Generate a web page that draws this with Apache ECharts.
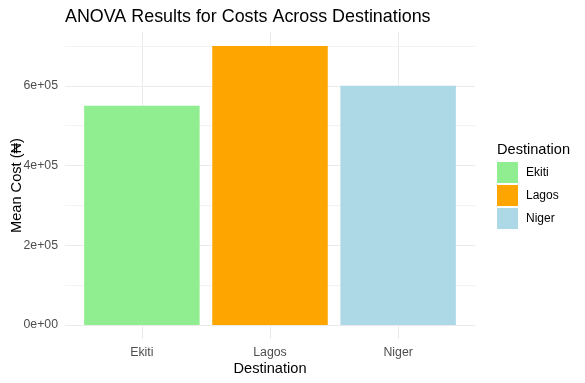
<!DOCTYPE html>
<html>
<head>
<meta charset="utf-8">
<script src="https://cdn.jsdelivr.net/npm/echarts@6/dist/echarts.min.js"></script>
<style>html,body{margin:0;padding:0;background:#fff;}#c{width:585px;height:383px;}</style>
</head>
<body>
<div id="c"></div>
<script>
const categories = ['Ekiti', 'Lagos', 'Niger'];
const meanCost = [550000, 700000, 600000];
const colors = ['#90EE90', '#FFA500', '#ADD8E6'];
const yTicks = [0, 200000, 400000, 600000];
const yMinor = [100000, 300000, 500000, 700000];
const yRange = [-35000, 735000];
const xRange = [0.4, 3.6];

function sci(v) {
  if (v === 0) return '0e+00';
  const e = Math.floor(Math.log10(Math.abs(v)));
  const m = Math.round(v / Math.pow(10, e));
  return m + 'e' + (e >= 0 ? '+' : '-') + String(Math.abs(e)).padStart(2, '0');
}

const font = 'Liberation Sans, Arial, sans-serif';
const gridLines = [];
yTicks.forEach(v => gridLines.push({ yAxis: v, lineStyle: { color: '#EBEBEB', width: 1, type: 'solid' } }));
yMinor.forEach(v => gridLines.push({ yAxis: v, lineStyle: { color: '#F3F3F3', width: 1, type: 'solid' } }));
categories.forEach((c, i) => gridLines.push({ xAxis: i + 1, lineStyle: { color: '#EBEBEB', width: 1, type: 'solid' } }));

const series = categories.map((c, i) => {
  const s = {
    name: c,
    type: 'bar',
    data: [[i + 1, meanCost[i]]],
    barWidth: 115.5,
    barGap: '-100%',
    itemStyle: { color: colors[i] },
    z: 2,
    silent: true
  };
  if (i === 0) {
    s.markLine = {
      silent: true,
      symbol: 'none',
      z: 0,
      label: { show: false },
      lineStyle: { type: 'solid' },
      animation: false,
      data: gridLines
    };
  }
  return s;
});

const chart = echarts.init(document.getElementById('c'), null, { renderer: 'canvas' });
chart.setOption({
  animation: false,
  backgroundColor: '#ffffff',
  title: [
    { text: 'ANOVA Results for Costs Across Destinations', left: 65, top: 8, padding: 0,
      textStyle: { fontFamily: font, fontSize: 17.9, fontWeight: 'normal', color: '#000' } },
    { text: 'Destination', left: 497, top: 142, padding: 0,
      textStyle: { fontFamily: font, fontSize: 14.6, fontWeight: 'normal', color: '#000' } }
  ],
  legend: {
    orient: 'vertical',
    left: 497, top: 162,
    padding: 0,
    itemWidth: 21, itemHeight: 21, itemGap: 2,
    icon: 'rect',
    selectedMode: false,
    data: categories,
    textStyle: { fontFamily: font, fontSize: 12, color: '#000', padding: [0, 0, 0, 3] }
  },
  grid: { left: 65, right: 110, top: 32, bottom: 44, outerBoundsMode: 'none', containLabel: false },
  xAxis: {
    type: 'value',
    min: xRange[0], max: xRange[1],
    name: 'Destination',
    nameLocation: 'middle',
    nameGap: 22,
    nameMoveOverlap: false,
    nameTextStyle: { fontFamily: font, fontSize: 14.6, color: '#000' },
    axisLine: { show: false },
    axisTick: { show: false },
    splitLine: { show: false },
    axisLabel: {
      customValues: [1, 2, 3],
      formatter: v => categories[Math.round(v) - 1] || '',
      fontFamily: font, fontSize: 12.3, color: '#4D4D4D', margin: 8
    }
  },
  yAxis: {
    type: 'value',
    min: yRange[0], max: yRange[1],
    name: 'Mean Cost (₦)',
    nameLocation: 'middle',
    nameGap: 41,
    nameMoveOverlap: false,
    nameTextStyle: { fontFamily: font, fontSize: 14.6, color: '#000' },
    axisLine: { show: false },
    axisTick: { show: false },
    splitLine: { show: false },
    axisLabel: {
      customValues: yTicks,
      formatter: v => sci(v),
      fontFamily: font, fontSize: 12.3, color: '#4D4D4D', margin: 7
    }
  },
  series: series
});
</script>
</body>
</html>
